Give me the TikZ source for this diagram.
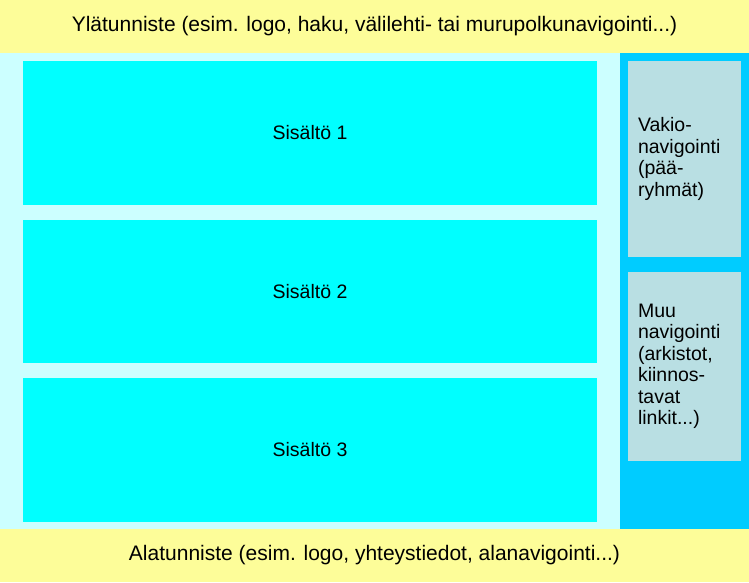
\documentclass[tikz,border=0pt]{standalone}
\usepackage{fontspec}
\setmainfont{Liberation Sans}
\definecolor{keltainen}{RGB}{253, 253, 153}
\definecolor{vaaleasyaani}{RGB}{204, 255, 255}
\definecolor{syaani}{RGB}{0, 255, 255}
\definecolor{sininen}{RGB}{0, 204, 255}
\definecolor{harmaasininen}{RGB}{185, 223, 227}
\usetikzlibrary{positioning}

\begin{document}
\begin{tikzpicture}[x=1pt, y=-1pt,
    alue/.style={anchor=north west, inner sep=0pt, outer sep=0pt, font=\fontsize{19.5}{21.5}\selectfont},
    tunniste/.style={alue, fill=keltainen, minimum width=749pt, minimum height=53pt, font=\fontsize{21}{23}\selectfont},
    sisalto/.style={alue, fill=syaani, minimum width=574pt, minimum height=143.5pt},
    navi/.style={alue, fill=harmaasininen, text width=93pt, inner xsep=10pt, align=left}]
    \useasboundingbox (0,0) rectangle (749,582);

    % Header and footer bands
    \node[tunniste] (ylatunniste) at (0,0) {Ylätunniste (esim. logo, haku, välilehti- tai murupolkunavigointi...)};
    \node[tunniste] (alatunniste) at (0,529) {Alatunniste (esim. logo, yhteystiedot, alanavigointi...)};

    % Background of the content column and the side column
    \node[alue, fill=vaaleasyaani, minimum width=620pt, minimum height=476pt] (paa) at (0,53) {};
    \node[alue, fill=sininen, minimum width=129pt, minimum height=476pt] (sivu) at (620,53) {};

    % Content boxes
    \node[sisalto] (s1) at (23,61) {Sisältö 1};
    \node[sisalto] (s2) at (23,219.5) {Sisältö 2};
    \node[sisalto] (s3) at (23,378) {Sisältö 3};

    % Navigation boxes
    \node[navi, minimum height=196pt] (vakio) at (628,61) {Vakio-\\navigointi\\(pää-\\ryhmät)};
    \node[navi, minimum height=189pt] (muu) at (628,272) {Muu\\navigointi\\(arkistot,\\kiinnos-\\tavat\\linkit...)};
\end{tikzpicture}
\end{document}
